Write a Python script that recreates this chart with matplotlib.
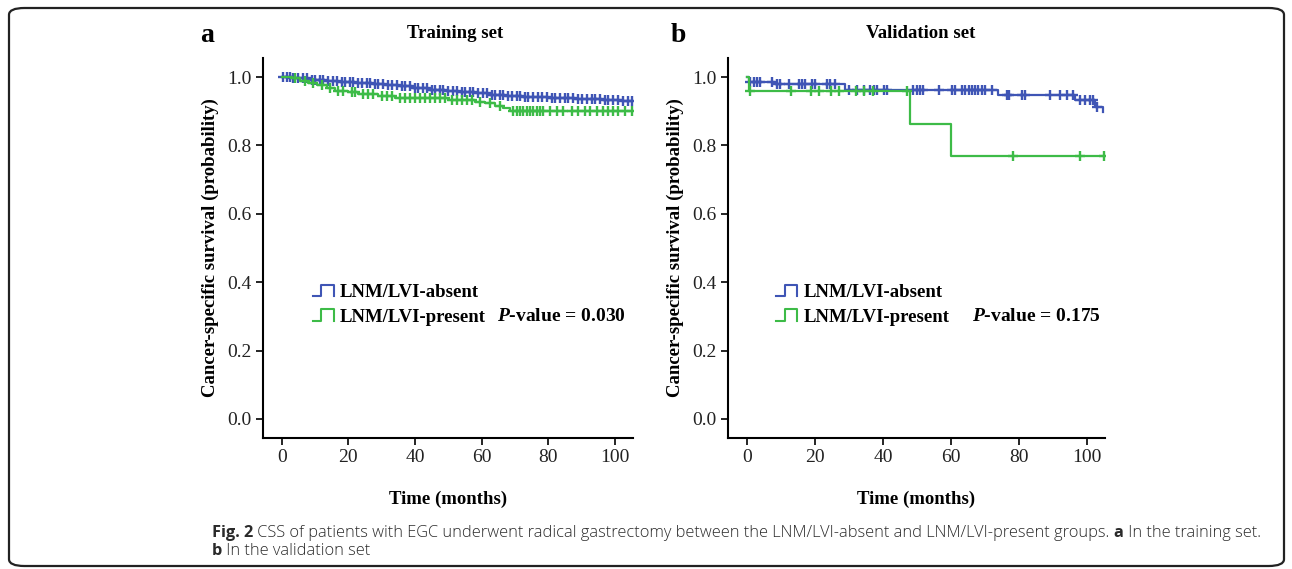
import matplotlib
matplotlib.use('Agg')
import matplotlib.pyplot as plt
import numpy as np
from matplotlib.lines import Line2D
from matplotlib.legend_handler import HandlerLine2D
from matplotlib.patches import FancyBboxPatch

# ---- data ----
# training set: step curves (time in months, survival)
train_absent_t = [0, 3, 8, 13, 17, 22, 27, 31, 35, 39, 44, 49, 53, 58, 62, 67, 72, 80, 88, 96, 102]
train_absent_s = [1.0, 0.997, 0.993, 0.989, 0.986, 0.983, 0.980, 0.977, 0.974, 0.967, 0.963,
                  0.960, 0.957, 0.953, 0.949, 0.945, 0.942, 0.939, 0.936, 0.933, 0.931]
train_present_t = [0, 3, 5.5, 8, 10.5, 13.5, 16, 20, 23, 29, 34, 50, 58, 61, 64, 66.5, 68.5]
train_present_s = [1.0, 0.997, 0.990, 0.984, 0.977, 0.967, 0.959, 0.955, 0.952, 0.946, 0.940,
                   0.934, 0.928, 0.923, 0.916, 0.909, 0.902]
train_absent_cens = [0.5, 1.5, 2.5, 3.5, 5, 6.5, 7.5, 9, 10, 11.5, 12.5, 14, 15.5, 16.5, 18,
                     19, 20.5, 21.5, 23, 24, 25.5, 26.5, 28, 29, 30.5, 32, 33, 34.5, 36, 37,
                     38.5, 40, 41, 42.5, 43.5, 45, 46, 47.5, 48.5, 50, 51.5, 52.5, 54, 55, 56.5,
                     57.5, 59, 60.5, 61.5, 63, 64, 65.5, 66.5, 68, 69, 70.5, 71.5, 73, 74, 75.5,
                     77, 78, 79.5, 81, 82, 83.5, 85, 86, 87.5, 89, 90, 91.5, 93, 94, 95.5, 97,
                     98, 99.5, 101, 102.5, 104, 105]
train_present_cens = [4, 7, 9.5, 12, 14.5, 17, 18.5, 21, 22, 24.5, 26, 27.5, 30, 31.5, 33, 35.5,
                      37, 38.5, 40, 41.5, 43, 44.5, 46, 47.5, 49, 51, 52.5, 54, 55.5, 57, 59.5,
                      62.5, 65.5, 69.5, 70.5, 71.5, 72.5, 73.5, 74.5, 75.5, 76.5, 77.5, 78.5,
                      80.5, 82.5, 84.5, 87, 89, 91, 92.5, 94.5, 96.5, 98, 99.5, 101, 103, 105]

# validation set
valid_absent_t = [0, 0.5, 8.3, 28.9, 74, 96.6, 102.4, 104.8]
valid_absent_s = [1.0, 0.986, 0.980, 0.963, 0.949, 0.932, 0.914, 0.899]
valid_present_t = [0, 0.5, 48, 60.1]
valid_present_s = [1.0, 0.960, 0.864, 0.768]
valid_absent_cens = [1, 2, 2.9, 3.9, 7.3, 8.8, 9.8, 12.3, 15.2, 16.2, 17.2, 19.1, 20.1, 23.6,
                     24.5, 26, 29.9, 32.4, 34.3, 36.3, 37.3, 38.2, 40.2, 41.2, 49, 50, 51, 51.9,
                     56.4, 60.2, 61.2, 63.2, 64.2, 65.2, 66.1, 67.1, 68.1, 69.1, 70.1, 72,
                     76.5, 77.1, 80.9, 81.8, 89.2, 92.1, 94.1, 96, 98, 99.5, 100.9, 101.9, 102.9]
valid_present_cens = [1, 13, 18.8, 21.3, 24.7, 27.2, 32, 34.5, 37, 47.2, 78.2, 98.1, 105]

xticks = [0, 20, 40, 60, 80, 100]
yticks = [0.0, 0.2, 0.4, 0.6, 0.8, 1.0]

BLUE = '#3f55b5'
GREEN = '#3dbb47'
SERIF = 'Liberation Serif'

plt.rcParams['font.family'] = SERIF
plt.rcParams['mathtext.fontset'] = 'custom'
plt.rcParams['mathtext.bfit'] = SERIF + ':bold:italic'


class StepHandler(HandlerLine2D):
    # legend icon shaped like the SPSS step glyph
    def create_artists(self, legend, orig_handle, xdescent, ydescent, width, height,
                       fontsize, trans):
        x0, x1 = -xdescent, -xdescent + width
        xm = x0 + width * 0.4
        y0, y1 = -ydescent + height * 0.05, -ydescent + height * 0.95
        line = Line2D([x0, xm, xm, x1, x1], [y0, y0, y1, y1, y0],
                      color=orig_handle.get_color(), lw=1.5)
        line.set_transform(trans)
        return [line]


def step_value(times, surv, t):
    idx = np.searchsorted(times, t, side='right') - 1
    return np.asarray(surv)[idx]


def draw_panel(ax, curves, pval, pval_x, leg_x):
    for t, s, cens, col in curves:
        tt = list(t) + [max(max(t), max(cens))]
        ss = list(s) + [s[-1]]
        ax.step(tt, ss, where='post', color=col, lw=1.6)
        ax.plot(cens, step_value(t, s, cens), linestyle='none', marker='+',
                color=col, markersize=6.5, mew=1.7)
    ax.set_xlim(-5.6, 105.4)
    ax.set_ylim(-0.055, 1.056)
    ax.set_xticks(xticks)
    ax.set_yticks(yticks)
    ax.set_xticklabels([str(x) for x in xticks])
    ax.set_yticklabels(['%.1f' % y for y in yticks])
    for sp in ['top', 'right']:
        ax.spines[sp].set_visible(False)
    for sp in ['left', 'bottom']:
        ax.spines[sp].set_linewidth(1.5)
    ax.tick_params(direction='out', length=5, width=1.2, labelsize=14,
                   labelcolor='#222222', pad=3)
    ax.set_xlabel('Time (months)', fontsize=13.5, fontweight='bold', labelpad=18)
    ax.set_ylabel('Cancer-specific survival (probability)', fontsize=13.5,
                  fontweight='bold', labelpad=6)
    handles = [Line2D([], [], color=BLUE), Line2D([], [], color=GREEN)]
    ax.legend(handles, ['LNM/LVI-absent', 'LNM/LVI-present'],
              handler_map={Line2D: StepHandler()},
              loc='upper left', bbox_to_anchor=(leg_x, 0.405), frameon=False,
              prop={'family': SERIF, 'weight': 'bold', 'size': 13.5},
              handlelength=1.1, handletextpad=0.35, labelspacing=0.4,
              borderaxespad=0, borderpad=0)
    ax.text(pval_x, 0.318, r'$\bfit{P}$' + '-value = ' + pval, transform=ax.transAxes,
            fontsize=14, fontweight='bold', va='center', ha='left')


fig = plt.figure(figsize=(12.92, 5.69), dpi=100)

ax1 = fig.add_axes([0.2036, 0.2308, 0.2864, 0.6673])
ax2 = fig.add_axes([0.5635, 0.2308, 0.2918, 0.6673])

draw_panel(ax1, [(train_absent_t, train_absent_s, train_absent_cens, BLUE),
                 (train_present_t, train_present_s, train_present_cens, GREEN)],
           '0.030', 0.633, 0.135)
draw_panel(ax2, [(valid_absent_t, valid_absent_s, valid_absent_cens, BLUE),
                 (valid_present_t, valid_present_s, valid_present_cens, GREEN)],
           '0.175', 0.647, 0.128)

fig.text(455 / 1292, 1 - 34 / 569, 'Training set', ha='center', va='center',
         fontsize=13.5, fontweight='bold')
fig.text(921 / 1292, 1 - 34 / 569, 'Validation set', ha='center', va='center',
         fontsize=13.5, fontweight='bold')
fig.text(207 / 1292, 1 - 36 / 569, 'a', ha='center', va='center', fontsize=20,
         fontweight='bold')
fig.text(678 / 1292, 1 - 36 / 569, 'b', ha='center', va='center', fontsize=20,
         fontweight='bold')

# rounded frame around the whole figure
frame = FancyBboxPatch((9 / 1292, 1 - 566 / 569), 1275 / 1292, 558 / 569,
                       boxstyle='round,pad=0,rounding_size=0.012',
                       transform=fig.transFigure, fill=False, lw=1.6, ec='#222222')
fig.patches.append(frame)

# caption with bold segments
renderer = fig.canvas.get_renderer()


def caption_line(x_px, y_px, parts):
    x = x_px / 1292
    for txt, wt in parts:
        t = fig.text(x, 1 - y_px / 569, txt, ha='left', va='center', fontsize=11.8,
                     family='Open Sans', weight=wt, color='#2a2a2a')
        bb = t.get_window_extent(renderer)
        x += bb.width / 1292


caption_line(212, 533, [('Fig. 2', 'bold'),
                        (' CSS of patients with EGC underwent radical gastrectomy between the '
                         'LNM/LVI-absent and LNM/LVI-present groups. ', 'light'),
                        ('a', 'bold'), (' In the training set.', 'light')])
caption_line(212, 551, [('b', 'bold'), (' In the validation set', 'light')])

fig.savefig('out.png', dpi=100)
